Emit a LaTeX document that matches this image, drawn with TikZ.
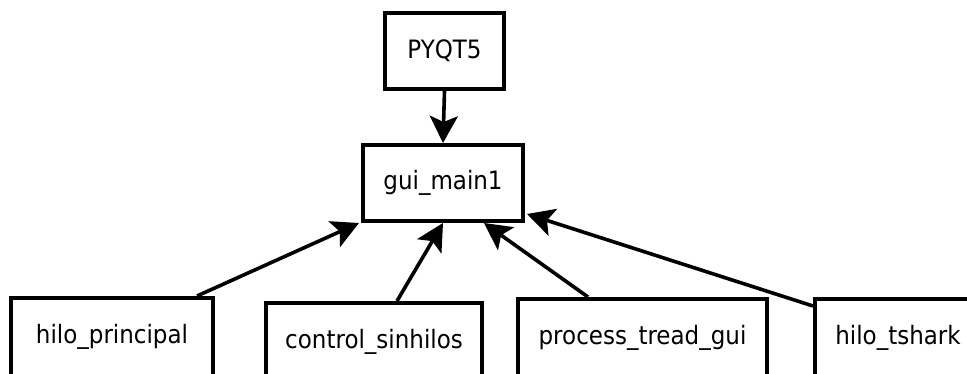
\documentclass[tikz,border=0pt]{standalone}
\usepackage{fontspec}
\setmainfont{DejaVu Sans}
\usetikzlibrary{arrows.meta}
% module labels: slightly tall lettering
\newcommand\modlabel[1]{\scalebox{1}[1.1]{#1}}
\begin{document}
\begin{tikzpicture}[x=1pt,y=1pt,
  modbox/.style={draw=black, line width=4pt, fill=white, inner sep=0pt,
    font=\fontsize{23}{27}\selectfont},
  dep/.style={line width=3.6pt, -{Stealth[length=27pt,width=28pt,inset=6pt]}}]
  \useasboundingbox[fill=white] (0,0) rectangle (967,373);
  % modules
  \node[modbox, minimum width=119pt, minimum height=76pt] (pyqt) at (444.5,322) {\modlabel{PYQT5}};
  \node[modbox, minimum width=160pt, minimum height=76pt] (gui) at (443,190) {\modlabel{gui\_main1}};
  \node[modbox, minimum width=202pt, minimum height=78pt] (hp) at (112,36) {\modlabel{hilo\_principal}};
  \node[modbox, minimum width=216pt, minimum height=78pt] (cs) at (374,31) {\modlabel{control\_sinhilos}};
  \node[modbox, minimum width=249pt, minimum height=78pt] (pt) at (642.5,35) {\modlabel{process\_tread\_gui}};
  \node[modbox, minimum width=166pt, minimum height=78pt] (ht) at (898,35) {\modlabel{hilo\_tshark}};
  % dependencies
  \draw[dep] (pyqt.south) -- (gui.north);
  \draw[dep] ([xshift=85pt]hp.north) -- ([xshift=-2pt]gui.south west);
  \draw[dep] ([xshift=23pt]cs.north) -- (gui.south);
  \draw[dep] ([xshift=-54.5pt]pt.north) -- ([xshift=41pt]gui.south);
  \draw[dep] ([yshift=-9pt]ht.north west) -- ([xshift=2pt,yshift=9pt]gui.south east);
\end{tikzpicture}
\end{document}
